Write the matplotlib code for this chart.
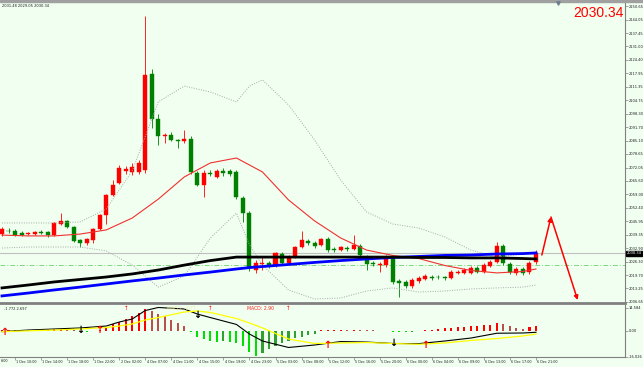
import numpy as np
import matplotlib
matplotlib.use("Agg")
import matplotlib.pyplot as plt
import matplotlib.transforms as mtransforms
from matplotlib.lines import Line2D
from matplotlib.patches import Rectangle

W, H = 643, 367
BG = "#f0fff0"

# hourly bars, 1 Dec 08:00 .. 6 Dec 21:00
opens = [2039.7, 2041.2, 2041.2, 2040.2, 2039.7, 2039.7, 2040.7, 2040.7, 2039.2, 2044.6,
         2046.1, 2043.1, 2036.8, 2035.3, 2036.8, 2042.2, 2049.0, 2058.7, 2064.5, 2070.4,
         2069.9, 2069.9, 2071.0, 2117.6, 2095.7, 2087.4, 2087.9, 2085.5, 2085.0, 2086.0,
         2069.4, 2063.6, 2069.4, 2067.5, 2070.4, 2070.4, 2069.9, 2057.2, 2049.9, 2022.2,
         2025.1, 2025.6, 2024.6, 2030.0, 2025.6, 2028.5, 2033.4, 2036.3, 2035.3, 2034.4,
         2037.3, 2032.4, 2031.9, 2032.9, 2032.4, 2033.9, 2028.5, 2025.6, 2024.6, 2024.6,
         2028.5, 2016.9, 2016.4, 2014.4, 2016.9, 2017.8, 2018.8, 2018.8, 2018.8, 2018.3,
         2020.8, 2020.8, 2020.8, 2023.2, 2021.2, 2024.2, 2026.1, 2033.9, 2025.1, 2020.8,
         2022.7, 2021.2, 2026.1]
highs = [2043.1, 2042.6, 2042.2, 2041.2, 2040.7, 2041.2, 2041.7, 2041.2, 2045.6, 2050.0,
         2046.5, 2043.6, 2037.3, 2037.8, 2042.6, 2049.5, 2059.2, 2066.0, 2073.3, 2072.8,
         2074.3, 2075.7, 2145.8, 2120.0, 2098.1, 2088.9, 2089.4, 2086.0, 2090.3, 2087.4,
         2070.4, 2070.9, 2070.9, 2071.4, 2071.8, 2071.4, 2070.9, 2058.2, 2050.9, 2027.1,
         2028.5, 2026.6, 2031.0, 2031.0, 2029.5, 2033.9, 2041.2, 2037.3, 2036.3, 2037.8,
         2038.3, 2033.4, 2033.9, 2033.9, 2039.2, 2034.9, 2029.5, 2026.6, 2026.1, 2029.5,
         2029.5, 2017.8, 2017.3, 2018.3, 2019.3, 2020.3, 2019.8, 2019.8, 2019.3, 2022.2,
         2022.2, 2023.2, 2024.2, 2024.2, 2025.6, 2027.1, 2035.8, 2034.9, 2026.1, 2023.7,
         2023.7, 2026.6, 2031.9]
lows = [2038.8, 2040.2, 2038.8, 2038.8, 2039.2, 2039.2, 2039.7, 2038.3, 2038.8, 2044.1,
        2042.6, 2035.8, 2033.4, 2034.4, 2035.3, 2041.7, 2044.6, 2058.2, 2064.1, 2068.9,
        2068.4, 2068.9, 2069.4, 2091.3, 2083.0, 2084.0, 2085.0, 2081.6, 2084.0, 2068.9,
        2063.1, 2057.7, 2067.9, 2067.0, 2067.9, 2067.9, 2056.7, 2045.6, 2021.7, 2020.8,
        2022.2, 2023.2, 2023.7, 2024.6, 2024.6, 2028.1, 2032.9, 2034.4, 2032.9, 2033.9,
        2031.0, 2031.0, 2031.5, 2031.5, 2031.9, 2028.5, 2022.2, 2024.2, 2021.2, 2023.7,
        2015.4, 2009.1, 2013.5, 2013.5, 2015.9, 2017.3, 2017.3, 2017.8, 2017.3, 2017.8,
        2020.3, 2020.3, 2020.3, 2020.8, 2020.8, 2023.7, 2025.6, 2024.6, 2020.3, 2019.8,
        2019.8, 2020.3, 2025.1]
closes = [2042.2, 2041.0, 2039.2, 2039.2, 2040.2, 2040.7, 2040.2, 2039.2, 2045.1, 2046.1,
          2043.1, 2036.3, 2035.3, 2037.3, 2042.2, 2049.0, 2058.7, 2063.6, 2071.8, 2071.4,
          2072.3, 2074.3, 2117.1, 2095.7, 2087.4, 2087.9, 2085.5, 2085.0, 2086.0, 2069.9,
          2063.6, 2069.4, 2068.9, 2070.4, 2069.4, 2068.9, 2057.7, 2049.9, 2023.2, 2025.6,
          2025.6, 2024.2, 2030.5, 2025.6, 2028.5, 2033.4, 2036.8, 2035.3, 2033.9, 2037.3,
          2031.9, 2031.9, 2033.4, 2032.4, 2034.4, 2029.5, 2025.1, 2025.1, 2025.1, 2028.5,
          2016.4, 2015.9, 2014.4, 2017.3, 2018.3, 2019.3, 2018.3, 2018.6, 2018.3, 2021.2,
          2021.2, 2022.2, 2023.2, 2021.2, 2024.6, 2026.1, 2033.9, 2025.6, 2021.2, 2022.7,
          2020.8, 2025.6, 2030.34]

# moving averages / bands read at these bar numbers
line_k = [0, 4, 8, 12, 16, 20, 24, 28, 32, 36, 38, 40, 44, 48, 52, 56, 60, 64, 68, 72, 76, 80, 82]
ma_red = [2039.2, 2038.8, 2038.8, 2039.7, 2041.7, 2047.5, 2056.7, 2067.5, 2074.3, 2076.7, 2073.3, 2069.9,
          2056.3, 2046.1, 2037.8, 2031.9, 2029.3, 2027.8, 2024.4, 2022.0, 2020.8, 2021.5, 2022.7]
bb_up = [2045.1, 2045.1, 2045.1, 2045.6, 2051.9, 2070.4, 2104.0, 2111.7, 2108.8, 2104.0, 2111.7, 2114.7,
         2102.5, 2085.5, 2066.0, 2050.4, 2044.6, 2042.6, 2038.3, 2031.9, 2028.5, 2030.0, 2031.0]
bb_lo = [2032.9, 2033.4, 2033.4, 2033.4, 2031.5, 2024.6, 2013.9, 2019.3, 2037.8, 2049.9, 2034.4, 2024.6,
         2012.5, 2008.1, 2008.6, 2012.0, 2013.5, 2011.5, 2012.0, 2013.0, 2013.5, 2013.9, 2014.9]
ma_black = [2013.5, 2014.9, 2016.4, 2017.6, 2018.8, 2020.3, 2022.2, 2024.6, 2026.8, 2028.5, 2028.5, 2028.5,
            2028.5, 2028.5, 2028.5, 2028.5, 2028.5, 2028.3, 2028.3, 2028.1, 2028.1, 2027.8, 2027.6]
ma_blue = [2009.6, 2011.0, 2012.5, 2013.9, 2015.4, 2016.9, 2018.3, 2019.8, 2021.2, 2022.7, 2023.4, 2023.9,
           2024.9, 2025.9, 2026.8, 2027.6, 2028.3, 2028.8, 2029.3, 2029.5, 2030.0, 2030.2, 2030.5]

last_price = 2030.34
level_green = 2024.5
arrow_k = [82.9, 84.3, 88.4]
arrow_p = [2029.5, 2048.0, 2007.6]

price_ticks = [2150.65, 2144.05, 2137.45, 2131.00, 2124.40, 2117.95, 2111.35, 2104.75, 2098.30,
               2091.70, 2085.10, 2078.65, 2072.05, 2065.60, 2059.00, 2052.40, 2045.95, 2039.35,
               2032.90, 2026.30, 2019.70, 2013.25, 2006.65]

# MACD pane
hist = [0.6, 0.8, 0.6, 0.8, 0.6, 0.8, 0.6, 0.8, 1.0, 1.2, 1.0, 0.6,
        0.3, -0.4, -0.3,
        0.8, 2.1, 4.4, 5.6, 7.5, 9.4, 11.3, 13.8, 12.5, 10.6, 9.4, 6.9, 5.0, 3.1,
        -0.6, -3.8, -5.0, -6.3, -6.9, -6.3, -6.9, -7.5, -9.4, -13.1, -15.6, -13.8, -11.3, -9.4,
        -7.5, -6.3, -4.4, -3.8, -2.5, -1.9,
        0.6, 0.6, 0.9, 0.9, 0.6, 0.9, 0.6, 0.5, 0.4, 0.3, 0.3, -0.4, -0.6, -0.6, -0.4, 0.3, 0.6, 0.9, 1.2,
        1.7, 2.1, 2.5, 2.7, 3.1, 3.4, 3.7, 4.0, 4.8, 4.2, 3.1, 2.1, 1.4, 2.5, 3.1]
macd_k = [0, 4, 8, 12, 16, 18, 20, 22, 24, 28, 30, 32, 36, 38, 40, 44, 48, 52, 56, 60, 64, 68, 72, 76, 80, 82]
macd_main = [-0.4, 0.6, 1.25, 1.9, 3.1, 5.6, 7.5, 12.8, 14.7, 13.75, 10.6, 8.4, 4.1, -1.9, -6.25,
             -10.3, -8.75, -6.6, -6.9, -7.8, -7.9, -6.25, -4.4, -1.4, -1.25, -0.8]
macd_signal = [-0.4, 0.1, 0.6, 1.25, 2.2, 3.1, 4.4, 6.9, 8.4, 11.9, 12.5, 11.6, 7.8, 5.0, 1.9,
               -5.0, -7.8, -7.5, -7.2, -7.8, -8.3, -7.5, -5.9, -4.7, -3.1, -1.9]
up_k, up_v = [0.3, 15, 50, 65], [-0.6, 0.6, -8.75, -8.75]
dn_k, dn_v = [12, 30, 60], [0.6, 10.0, -7.5]
thin_k = [19, 32, 44]
macd_ticks = [14.584, 0.0, -16.026]
macd_tick_labels = ["14.584", "0.00", "-16.026"]

# first label is cut by the left edge in the original, only its tail shows
time_k = list(range(2, 83, 4))
time_labels = ["1 Dec 10:00", "1 Dec 14:00", "1 Dec 18:00", "1 Dec 22:00",
               "2 Dec 02:00", "4 Dec 07:00", "4 Dec 11:00", "4 Dec 15:00", "4 Dec 19:00",
               "4 Dec 23:00", "5 Dec 03:00", "5 Dec 08:00", "5 Dec 12:00", "5 Dec 16:00",
               "5 Dec 20:00", "6 Dec 00:00", "6 Dec 04:00", "6 Dec 09:00", "6 Dec 13:00",
               "6 Dec 17:00", "6 Dec 21:00"]
first_label_tail = "6:00"

fig = plt.figure(figsize=(W / 100, H / 100), dpi=100, facecolor=BG)
ax = fig.add_axes([0, 1 - 303 / H, 625 / W, 300 / H], facecolor=BG)
axm = fig.add_axes([0, 10 / H, 625 / W, 52 / H], facecolor=BG)

kk = np.arange(len(opens))
o, hi, lo, c = map(np.array, (opens, highs, lows, closes))
col = np.where(c >= o, "#ff0000", "#008000")

# candles
ax.vlines(kk, lo, hi, colors=col, lw=0.6, zorder=2)
ax.bar(kk, np.maximum(np.abs(c - o), 0.2), bottom=np.minimum(o, c), width=0.62,
       color=col, edgecolor=col, lw=0.3, zorder=2)

ax.axhline(last_price, color="#c0c0c0", lw=0.8, zorder=1)
ax.axhline(level_green, color="#80d880", lw=0.7, ls=(0, (5, 2, 1, 2)), zorder=1)

ax.plot(line_k, bb_up, color="#a8a8a8", lw=0.7, ls=(0, (1, 1.5)), zorder=3)
ax.plot(line_k, bb_lo, color="#a8a8a8", lw=0.7, ls=(0, (1, 1.5)), zorder=3)
ax.plot(line_k, ma_red, color="#f03030", lw=0.8, zorder=3)
ax.plot(line_k, ma_blue, color="#0000ff", lw=2.0, zorder=3)
ax.plot(line_k, ma_black, color="#000000", lw=2.0, zorder=3)

for i in range(2):
    ax.annotate("", xy=(arrow_k[i + 1], arrow_p[i + 1]), xytext=(arrow_k[i], arrow_p[i]),
                arrowprops=dict(arrowstyle="-|>", color="#ff0000", lw=1.1,
                                mutation_scale=6, shrinkA=0, shrinkB=0), zorder=5)

xlim = (-2 / 6.512, 623 / 6.512)
ax.set_xlim(*xlim)
ax.set_ylim(2006.16, 2152.11)
ax.yaxis.tick_right()
ax.set_yticks(price_ticks)
ax.set_yticklabels([f"{v:.2f}" for v in price_ticks])
ax.tick_params(axis="y", length=2, width=0.5, color="#808080", pad=0.8,
               labelsize=2.6, labelcolor="#202020")
ax.tick_params(axis="x", bottom=False, labelbottom=False)
for s in ("left", "top"):
    ax.spines[s].set_visible(False)
ax.spines["right"].set_color("#808080")
ax.spines["right"].set_linewidth(0.8)
ax.spines["bottom"].set_color("#808080")
ax.spines["bottom"].set_linewidth(2.0)

blend = mtransforms.blended_transform_factory(ax.transAxes, ax.transData)
ax.text(1.003, last_price, f"{last_price:.2f}", transform=blend, fontsize=2.6, color="white",
        va="center", ha="left", bbox=dict(fc="black", ec="black", pad=0.4), clip_on=False)

# MACD pane
hv = np.array(hist)
prev = np.r_[hv[0], hv[:-1]]
hcol = np.where(hv >= 0, np.where(hv >= prev, "#ff0000", "#b85050"),
                np.where(hv <= prev, "#00e000", "#30a030"))
axm.bar(kk, hv, width=0.32, color=hcol, zorder=2)
axm.plot(macd_k, macd_main, color="#000000", lw=0.8, zorder=3)
axm.plot(macd_k, macd_signal, color="#ffff00", lw=0.9, zorder=3)
for k_, v_ in zip(up_k, up_v):
    axm.text(k_, v_, "\u2191", color="#ff0000", fontsize=7, fontweight="bold",
             ha="center", va="center", zorder=4)
for k_, v_ in zip(dn_k, dn_v):
    axm.text(k_, v_, "\u2193", color="#000000", fontsize=7, fontweight="bold",
             ha="center", va="center", zorder=4)
for k_ in thin_k:
    axm.text(k_, 14.0, "\u2191", color="#ff0000", fontsize=4, ha="center", va="center", zorder=4)

axm.set_xlim(*xlim)
axm.set_ylim(-16.25, 16.25)
axm.yaxis.tick_right()
axm.set_yticks(macd_ticks)
axm.set_yticklabels(macd_tick_labels)
axm.tick_params(axis="y", length=2, width=0.5, color="#808080", pad=0.8,
                labelsize=2.6, labelcolor="#202020")
axm.set_xticks(time_k)
axm.tick_params(axis="x", length=2, width=0.5, color="#808080", labelbottom=False)
for s in ("left", "top"):
    axm.spines[s].set_visible(False)
for s in ("right", "bottom"):
    axm.spines[s].set_color("#808080")
    axm.spines[s].set_linewidth(0.8)
for t, lab in zip(time_k, time_labels):
    axm.text(t + 0.2, -0.05, lab, transform=axm.get_xaxis_transform(), fontsize=2.4,
             color="#202020", ha="left", va="top", clip_on=False)
fig.text(0.5 / W, 1 - 359 / H, first_label_tail, fontsize=2.4, color="#202020",
         ha="left", va="top")

# header texts
fig.text(2 / W, 1 - 6 / H, "2031.48 2029.05 2030.34", fontsize=2.6, color="#202020", va="center")
fig.text(4 / W, 1 - 309 / H, "-1.772 2.697", fontsize=2.6, color="#202020", va="center")
fig.text(167 / W, 1 - 308.5 / H, "MACD: -1.77", fontsize=3.3, color="#f0f0a0", va="center")
fig.text(247 / W, 1 - 308.5 / H, "MACD: 2.90", fontsize=3.3, color="#ff2020", va="center")
fig.text(573 / W, 1 - 17 / H, "2030.34", fontsize=10, color="#ff0000",
         family="Liberation Sans", va="baseline")
fig.patches.append(Rectangle((0, 1 - 2 / H), 1, 2 / H, transform=fig.transFigure,
                             color="#a0a0a0", zorder=0))
fig.add_artist(Line2D([558 / W], [1 - 3 / H], marker="v", markersize=2.5, color="#708090"))

fig.savefig("out.png", dpi=100, facecolor=BG)
